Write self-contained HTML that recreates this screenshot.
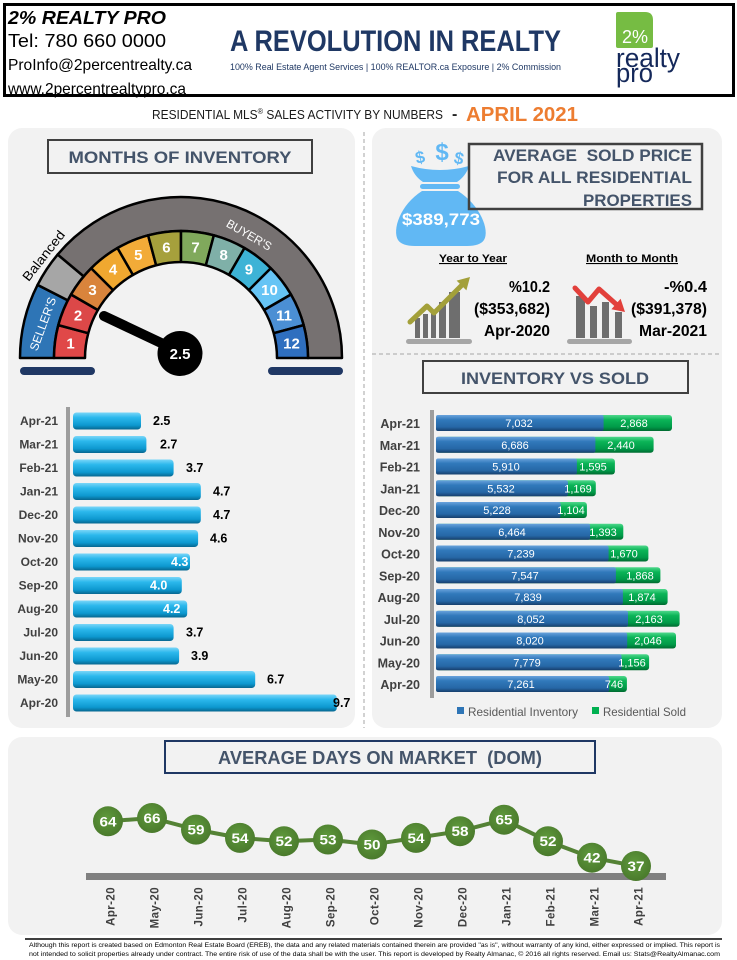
<!DOCTYPE html>
<html>
<head>
<meta charset="utf-8">
<style>
html,body{margin:0;padding:0;background:#fff;}
svg{display:block;}
text{font-family:"Liberation Sans",sans-serif;}
</style>
</head>
<body>
<svg width="737" height="960" viewBox="0 0 737 960" xmlns="http://www.w3.org/2000/svg">
<defs>
  <linearGradient id="gL" x1="0" y1="0" x2="0" y2="1">
    <stop offset="0" stop-color="#7ad6f8"/>
    <stop offset="0.3" stop-color="#2bb8ec"/>
    <stop offset="0.75" stop-color="#0d98cf"/>
    <stop offset="1" stop-color="#07668f"/>
  </linearGradient>
  <linearGradient id="gB" x1="0" y1="0" x2="0" y2="1">
    <stop offset="0" stop-color="#6aa3dc"/>
    <stop offset="0.3" stop-color="#3179bb"/>
    <stop offset="0.75" stop-color="#2667a6"/>
    <stop offset="1" stop-color="#173f6c"/>
  </linearGradient>
  <linearGradient id="gG" x1="0" y1="0" x2="0" y2="1">
    <stop offset="0" stop-color="#4fd88c"/>
    <stop offset="0.3" stop-color="#0bb457"/>
    <stop offset="0.75" stop-color="#009a48"/>
    <stop offset="1" stop-color="#006a30"/>
  </linearGradient>
  <radialGradient id="gC" cx="0.45" cy="0.4" r="0.6">
    <stop offset="0" stop-color="#5f9a3c"/>
    <stop offset="1" stop-color="#4a7a2c"/>
  </radialGradient>
</defs>

<!-- HEADER -->
<rect x="4.5" y="4.5" width="729" height="91" fill="#fff" stroke="#000" stroke-width="3"/>
<text x="8" y="24" font-size="18" font-weight="bold" font-style="italic" textLength="158" lengthAdjust="spacingAndGlyphs">2% REALTY PRO</text>
<text x="8" y="47" font-size="18" textLength="158" lengthAdjust="spacingAndGlyphs">Tel: 780 660 0000</text>
<text x="8" y="70" font-size="16" textLength="184" lengthAdjust="spacingAndGlyphs">ProInfo@2percentrealty.ca</text>
<text x="8" y="94" font-size="16" textLength="178" lengthAdjust="spacingAndGlyphs">www.2percentrealtypro.ca</text>

<text x="230" y="51" font-size="30" font-weight="bold" fill="#1f3864" textLength="331" lengthAdjust="spacingAndGlyphs">A REVOLUTION IN REALTY</text>
<text x="230" y="70" font-size="9" fill="#1f3864" textLength="331" lengthAdjust="spacingAndGlyphs">100% Real Estate Agent Services | 100% REALTOR.ca Exposure | 2% Commission</text>

<path d="M616,14 Q616,12 618,12 L645,12 Q653,12 653,20 L653,46 Q653,48 651,48 L618,48 Q616,48 616,46 Z" fill="#76bc43"/>
<text x="622" y="43" font-size="18" fill="#fff" textLength="26" lengthAdjust="spacingAndGlyphs">2%</text>
<text x="616" y="67" font-size="27" fill="#14285a" textLength="64" lengthAdjust="spacingAndGlyphs">realty</text>
<text x="616" y="82" font-size="27" fill="#14285a" textLength="37" lengthAdjust="spacingAndGlyphs">pro</text>

<!-- SUBTITLE -->
<text x="152" y="119" font-size="13" fill="#1a1a1a" textLength="291" lengthAdjust="spacingAndGlyphs">RESIDENTIAL MLS<tspan font-size="8" dy="-5">®</tspan><tspan dy="5"> SALES ACTIVITY BY NUMBERS</tspan></text>
<text x="452" y="119" font-size="16" font-weight="bold" fill="#222">-</text>
<text x="466" y="121" font-size="20" font-weight="bold" fill="#ed7d31" textLength="112" lengthAdjust="spacingAndGlyphs">APRIL 2021</text>

<!-- PANELS -->
<rect x="8" y="128" width="347" height="600" rx="14" fill="#f2f2f2"/>
<rect x="372" y="128" width="350" height="600" rx="14" fill="#f2f2f2"/>
<rect x="8" y="737" width="714" height="198" rx="14" fill="#f2f2f2"/>
<line x1="364" y1="132" x2="364" y2="728" stroke="#a6a6a6" stroke-width="1" stroke-dasharray="4,3"/>
<line x1="372" y1="354" x2="722" y2="354" stroke="#a6a6a6" stroke-width="1" stroke-dasharray="4,3"/>

<!-- MONTHS OF INVENTORY -->
<rect x="48" y="140" width="264" height="33" fill="none" stroke="#404040" stroke-width="2"/>
<text x="180" y="163" font-size="17" font-weight="bold" fill="#44546a" text-anchor="middle" textLength="223" lengthAdjust="spacingAndGlyphs">MONTHS OF INVENTORY</text>

<!-- GAUGE -->
<g stroke="#000" stroke-width="2.5" stroke-linejoin="round">
  <path d="M20,358 A161,161 0 0 1 37.55,284.91 L67.84,300.34 A127,127 0 0 0 54,358 Z" fill="#2e75b6"/>
  <path d="M37.55,284.91 A161,161 0 0 1 57.67,254.51 L83.72,276.36 A127,127 0 0 0 67.84,300.34 Z" fill="#a6a6a6"/>
  <path d="M57.67,254.51 A161,161 0 0 1 342,358 L308,358 A127,127 0 0 0 83.72,276.36 Z" fill="#767171"/>
  <g>
    <path d="M54,358 A127,127 0 0 1 58.33,325.13 L88.27,333.15 A96,96 0 0 0 85,358 Z" fill="#e04848"/>
    <path d="M54,358 A127,127 0 0 1 58.33,325.13 L88.27,333.15 A96,96 0 0 0 85,358 Z" fill="#dc4848" transform="rotate(15 181 358)"/>
    <path d="M54,358 A127,127 0 0 1 58.33,325.13 L88.27,333.15 A96,96 0 0 0 85,358 Z" fill="#d9843c" transform="rotate(30 181 358)"/>
    <path d="M54,358 A127,127 0 0 1 58.33,325.13 L88.27,333.15 A96,96 0 0 0 85,358 Z" fill="#f0a830" transform="rotate(45 181 358)"/>
    <path d="M54,358 A127,127 0 0 1 58.33,325.13 L88.27,333.15 A96,96 0 0 0 85,358 Z" fill="#f2ab38" transform="rotate(60 181 358)"/>
    <path d="M54,358 A127,127 0 0 1 58.33,325.13 L88.27,333.15 A96,96 0 0 0 85,358 Z" fill="#a6a03c" transform="rotate(75 181 358)"/>
    <path d="M54,358 A127,127 0 0 1 58.33,325.13 L88.27,333.15 A96,96 0 0 0 85,358 Z" fill="#80a95c" transform="rotate(90 181 358)"/>
    <path d="M54,358 A127,127 0 0 1 58.33,325.13 L88.27,333.15 A96,96 0 0 0 85,358 Z" fill="#7fb0a8" transform="rotate(105 181 358)"/>
    <path d="M54,358 A127,127 0 0 1 58.33,325.13 L88.27,333.15 A96,96 0 0 0 85,358 Z" fill="#3db3d6" transform="rotate(120 181 358)"/>
    <path d="M54,358 A127,127 0 0 1 58.33,325.13 L88.27,333.15 A96,96 0 0 0 85,358 Z" fill="#66c4f5" transform="rotate(135 181 358)"/>
    <path d="M54,358 A127,127 0 0 1 58.33,325.13 L88.27,333.15 A96,96 0 0 0 85,358 Z" fill="#4b8fd4" transform="rotate(150 181 358)"/>
    <path d="M54,358 A127,127 0 0 1 58.33,325.13 L88.27,333.15 A96,96 0 0 0 85,358 Z" fill="#2f6fbf" transform="rotate(165 181 358)"/>
  </g>
</g>
<g font-size="15" font-weight="bold" fill="#fff" text-anchor="middle">
  <text x="70.5" y="348.5">1</text>
  <text x="78" y="320.3">2</text>
  <text x="92.5" y="295.1">3</text>
  <text x="113.1" y="274.5">4</text>
  <text x="138.3" y="260">5</text>
  <text x="166.4" y="252.5">6</text>
  <text x="195.6" y="252.5">7</text>
  <text x="223.7" y="260">8</text>
  <text x="248.9" y="274.5">9</text>
  <text x="269.5" y="295.1">10</text>
  <text x="284" y="320.3">11</text>
  <text x="291.5" y="348.5">12</text>
</g>
<text transform="translate(43,324) rotate(-70)" dy="4" font-size="12" fill="#fff" text-anchor="middle" textLength="56" lengthAdjust="spacingAndGlyphs">SELLER'S</text>
<text transform="translate(44,256) rotate(-52)" dy="4" font-size="13" fill="#000" text-anchor="middle" textLength="60" lengthAdjust="spacingAndGlyphs">Balanced</text>
<text transform="translate(249,235) rotate(30)" dy="4" font-size="12" fill="#fff" text-anchor="middle" textLength="50" lengthAdjust="spacingAndGlyphs">BUYER'S</text>

<line x1="104" y1="316" x2="176" y2="350" stroke="#000" stroke-width="10" stroke-linecap="round"/>
<circle cx="180" cy="353.5" r="22.5" fill="#000"/>
<text x="180" y="359" font-size="15" font-weight="bold" fill="#fff" text-anchor="middle">2.5</text>
<rect x="20" y="367" width="75" height="8" rx="4" fill="#203864"/>
<rect x="268" y="367" width="75" height="8" rx="4" fill="#203864"/>

<!-- LEFT BAR CHART -->
<rect x="66" y="407" width="4" height="310" fill="#9d9d9d"/>
<g fill="url(#gL)">
  <rect x="73" y="412.5" width="68" height="17" rx="3.5"/>
  <rect x="73" y="436" width="73.4" height="17" rx="3.5"/>
  <rect x="73" y="459.5" width="100.6" height="17" rx="3.5"/>
  <rect x="73" y="483" width="127.8" height="17" rx="3.5"/>
  <rect x="73" y="506.5" width="127.8" height="17" rx="3.5"/>
  <rect x="73" y="530" width="125.1" height="17" rx="3.5"/>
  <rect x="73" y="553.5" width="117" height="17" rx="3.5"/>
  <rect x="73" y="577" width="108.8" height="17" rx="3.5"/>
  <rect x="73" y="600.5" width="114.2" height="17" rx="3.5"/>
  <rect x="73" y="624" width="100.6" height="17" rx="3.5"/>
  <rect x="73" y="647.5" width="106.1" height="17" rx="3.5"/>
  <rect x="73" y="671" width="182.2" height="17" rx="3.5"/>
  <rect x="73" y="694.5" width="263.8" height="17" rx="3.5"/>
</g>
<g font-size="12" font-weight="bold" fill="#404040" text-anchor="end">
  <text x="58" y="425">Apr-21</text>
  <text x="58" y="448.5">Mar-21</text>
  <text x="58" y="472">Feb-21</text>
  <text x="58" y="495.5">Jan-21</text>
  <text x="58" y="519">Dec-20</text>
  <text x="58" y="542.5">Nov-20</text>
  <text x="58" y="566">Oct-20</text>
  <text x="58" y="589.5">Sep-20</text>
  <text x="58" y="613">Aug-20</text>
  <text x="58" y="636.5">Jul-20</text>
  <text x="58" y="660">Jun-20</text>
  <text x="58" y="683.5">May-20</text>
  <text x="58" y="707">Apr-20</text>
</g>
<g font-size="12.5" font-weight="bold" fill="#000">
  <text x="153" y="425">2.5</text>
  <text x="160" y="448.5">2.7</text>
  <text x="186" y="472">3.7</text>
  <text x="213" y="495.5">4.7</text>
  <text x="213" y="519">4.7</text>
  <text x="210" y="542.5">4.6</text>
  <text x="171" y="566" fill="#fff">4.3</text>
  <text x="150" y="589.5" fill="#fff">4.0</text>
  <text x="163" y="613" fill="#fff">4.2</text>
  <text x="186" y="636.5">3.7</text>
  <text x="191" y="660">3.9</text>
  <text x="267" y="683.5">6.7</text>
  <text x="333" y="707">9.7</text>
</g>

<!-- AVERAGE SOLD PRICE -->
<path d="M422,191 C400,205 392,230 398,240 Q402,246 415,246 L467,246 Q480,246 484,240 C490,230 480,205 458,191 Z" fill="#61b8f4"/>
<rect x="420" y="184" width="40" height="5" rx="2.5" fill="#61b8f4"/>
<path d="M411,166 Q440,174 469,166 Q466,176 457,182 L423,182 Q414,176 411,166 Z" fill="#61b8f4"/>
<text x="420" y="163" font-size="17" font-weight="bold" fill="#61b8f4" text-anchor="middle" transform="rotate(-12 420 157)">$</text>
<text x="442" y="160" font-size="24" font-weight="bold" fill="#61b8f4" text-anchor="middle">$</text>
<text x="459" y="164" font-size="17" font-weight="bold" fill="#61b8f4" text-anchor="middle" transform="rotate(12 459 158)">$</text>
<text x="441" y="225" font-size="17" font-weight="bold" fill="#fff" text-anchor="middle" textLength="78" lengthAdjust="spacingAndGlyphs">$389,773</text>

<rect x="469" y="144" width="233" height="65" fill="none" stroke="#404040" stroke-width="2.5"/>
<g font-size="17" font-weight="bold" fill="#44546a" text-anchor="end">
  <text x="692" y="161" textLength="199" lengthAdjust="spacingAndGlyphs">AVERAGE&#160; SOLD PRICE</text>
  <text x="692" y="183" textLength="195" lengthAdjust="spacingAndGlyphs">FOR ALL RESIDENTIAL</text>
  <text x="692" y="206" textLength="109" lengthAdjust="spacingAndGlyphs">PROPERTIES</text>
</g>

<text x="473" y="262" font-size="11" font-weight="bold" fill="#000" text-anchor="middle" textLength="68" lengthAdjust="spacingAndGlyphs" text-decoration="underline">Year to Year</text>
<text x="632" y="262" font-size="11" font-weight="bold" fill="#000" text-anchor="middle" textLength="92" lengthAdjust="spacingAndGlyphs" text-decoration="underline">Month to Month</text>

<!-- up icon -->
<g fill="#6e6e6e">
  <rect x="415" y="318" width="5" height="20"/>
  <rect x="423" y="314" width="5" height="24"/>
  <rect x="431" y="312" width="5" height="26"/>
  <rect x="439" y="302" width="7" height="36"/>
  <rect x="449" y="292" width="11" height="46"/>
</g>
<rect x="406" y="339" width="66" height="5" rx="2.5" fill="#a6a6a6"/>
<polyline points="410,322 427,306 434,313 461,286" fill="none" stroke="#a3a03a" stroke-width="5" stroke-linejoin="round" stroke-linecap="round"/>
<polygon points="470,277 456.6,280.6 466.4,290.4" fill="#a3a03a"/>
<!-- down icon -->
<g fill="#6e6e6e">
  <rect x="576" y="296" width="9" height="42"/>
  <rect x="590" y="306" width="7" height="32"/>
  <rect x="602" y="302" width="7" height="36"/>
  <rect x="615" y="312" width="7" height="26"/>
</g>
<rect x="567" y="339" width="65" height="5" rx="2.5" fill="#a6a6a6"/>
<polyline points="575,288 588,302 599,289 617,305" fill="none" stroke="#e2403b" stroke-width="5" stroke-linejoin="round" stroke-linecap="round"/>
<polygon points="625,312 620.6,298.8 611.4,309.2" fill="#e2403b"/>

<g font-size="16" font-weight="bold" fill="#000" text-anchor="end">
  <text x="550" y="292" textLength="41" lengthAdjust="spacingAndGlyphs">%10.2</text>
  <text x="550" y="314" textLength="76" lengthAdjust="spacingAndGlyphs">($353,682)</text>
  <text x="550" y="336" textLength="66" lengthAdjust="spacingAndGlyphs">Apr-2020</text>
  <text x="707" y="292" textLength="43" lengthAdjust="spacingAndGlyphs">-%0.4</text>
  <text x="707" y="314" textLength="76" lengthAdjust="spacingAndGlyphs">($391,378)</text>
  <text x="707" y="336" textLength="68" lengthAdjust="spacingAndGlyphs">Mar-2021</text>
</g>

<!-- INVENTORY VS SOLD -->
<rect x="423" y="361" width="265" height="32" fill="none" stroke="#404040" stroke-width="2"/>
<text x="555" y="384" font-size="17" font-weight="bold" fill="#44546a" text-anchor="middle" textLength="188" lengthAdjust="spacingAndGlyphs">INVENTORY VS SOLD</text>

<rect x="430" y="410" width="4" height="288" fill="#9d9d9d"/>
<g>
  <rect x="436" y="415" width="236" height="16" rx="3" fill="url(#gG)"/>
  <rect x="436" y="415" width="167.6" height="16" rx="2" fill="url(#gB)"/>
  <rect x="436" y="436.75" width="217.6" height="16" rx="3" fill="url(#gG)"/>
  <rect x="436" y="436.75" width="159.4" height="16" rx="2" fill="url(#gB)"/>
  <rect x="436" y="458.5" width="178.9" height="16" rx="3" fill="url(#gG)"/>
  <rect x="436" y="458.5" width="140.9" height="16" rx="2" fill="url(#gB)"/>
  <rect x="436" y="480.25" width="159.8" height="16" rx="3" fill="url(#gG)"/>
  <rect x="436" y="480.25" width="131.9" height="16" rx="2" fill="url(#gB)"/>
  <rect x="436" y="502" width="150.9" height="16" rx="3" fill="url(#gG)"/>
  <rect x="436" y="502" width="124.6" height="16" rx="2" fill="url(#gB)"/>
  <rect x="436" y="523.75" width="187.3" height="16" rx="3" fill="url(#gG)"/>
  <rect x="436" y="523.75" width="154.1" height="16" rx="2" fill="url(#gB)"/>
  <rect x="436" y="545.5" width="212.4" height="16" rx="3" fill="url(#gG)"/>
  <rect x="436" y="545.5" width="172.6" height="16" rx="2" fill="url(#gB)"/>
  <rect x="436" y="567.25" width="224.4" height="16" rx="3" fill="url(#gG)"/>
  <rect x="436" y="567.25" width="179.9" height="16" rx="2" fill="url(#gB)"/>
  <rect x="436" y="589" width="231.6" height="16" rx="3" fill="url(#gG)"/>
  <rect x="436" y="589" width="186.9" height="16" rx="2" fill="url(#gB)"/>
  <rect x="436" y="610.75" width="243.6" height="16" rx="3" fill="url(#gG)"/>
  <rect x="436" y="610.75" width="192" height="16" rx="2" fill="url(#gB)"/>
  <rect x="436" y="632.5" width="240" height="16" rx="3" fill="url(#gG)"/>
  <rect x="436" y="632.5" width="191.2" height="16" rx="2" fill="url(#gB)"/>
  <rect x="436" y="654.25" width="213.1" height="16" rx="3" fill="url(#gG)"/>
  <rect x="436" y="654.25" width="185.5" height="16" rx="2" fill="url(#gB)"/>
  <rect x="436" y="676" width="190.9" height="16" rx="3" fill="url(#gG)"/>
  <rect x="436" y="676" width="173.1" height="16" rx="2" fill="url(#gB)"/>
</g>
<g font-size="12.5" font-weight="bold" fill="#404040" text-anchor="end">
  <text x="420" y="428">Apr-21</text>
  <text x="420" y="449.75">Mar-21</text>
  <text x="420" y="471.5">Feb-21</text>
  <text x="420" y="493.25">Jan-21</text>
  <text x="420" y="515">Dec-20</text>
  <text x="420" y="536.75">Nov-20</text>
  <text x="420" y="558.5">Oct-20</text>
  <text x="420" y="580.25">Sep-20</text>
  <text x="420" y="602">Aug-20</text>
  <text x="420" y="623.75">Jul-20</text>
  <text x="420" y="645.5">Jun-20</text>
  <text x="420" y="667.25">May-20</text>
  <text x="420" y="689">Apr-20</text>
</g>
<g font-size="11" fill="#fff" text-anchor="middle">
  <text x="519" y="427">7,032</text><text x="634" y="427">2,868</text>
  <text x="515" y="448.75">6,686</text><text x="621" y="448.75">2,440</text>
  <text x="506" y="470.5">5,910</text><text x="593" y="470.5">1,595</text>
  <text x="501" y="492.25">5,532</text><text x="578" y="492.25">1,169</text>
  <text x="497" y="514">5,228</text><text x="571" y="514">1,104</text>
  <text x="512" y="535.75">6,464</text><text x="603" y="535.75">1,393</text>
  <text x="521" y="557.5">7,239</text><text x="624" y="557.5">1,670</text>
  <text x="525" y="579.25">7,547</text><text x="640" y="579.25">1,868</text>
  <text x="528" y="601">7,839</text><text x="642" y="601">1,874</text>
  <text x="531" y="622.75">8,052</text><text x="649" y="622.75">2,163</text>
  <text x="530" y="644.5">8,020</text><text x="648" y="644.5">2,046</text>
  <text x="527" y="666.25">7,779</text><text x="632" y="666.25">1,156</text>
  <text x="521" y="688">7,261</text><text x="614" y="688">746</text>
</g>
<rect x="457" y="707" width="7" height="7" fill="#2e75b6"/>
<text x="468" y="716" font-size="12" fill="#595959" textLength="110" lengthAdjust="spacingAndGlyphs">Residential Inventory</text>
<rect x="592" y="707" width="7" height="7" fill="#00b050"/>
<text x="603" y="716" font-size="12" fill="#595959" textLength="83" lengthAdjust="spacingAndGlyphs">Residential Sold</text>

<!-- DOM -->
<rect x="165" y="741" width="430" height="32" fill="none" stroke="#1f3864" stroke-width="2"/>
<text x="380" y="764" font-size="18" font-weight="bold" fill="#44546a" text-anchor="middle" textLength="324" lengthAdjust="spacingAndGlyphs">AVERAGE DAYS ON MARKET&#160; (DOM)</text>

<rect x="86" y="873" width="580" height="7" fill="#808080"/>
<polyline points="108,821.3 152,818 196,829.6 240,837.9 284,841.2 328,839.5 372,844.5 416,837.9 460,831.2 504,819.7 548,841.2 592,857.7 636,866" fill="none" stroke="#548235" stroke-width="4" stroke-linejoin="round"/>
<g fill="url(#gC)">
  <circle cx="108" cy="821.3" r="15"/>
  <circle cx="152" cy="818" r="15"/>
  <circle cx="196" cy="829.6" r="15"/>
  <circle cx="240" cy="837.9" r="15"/>
  <circle cx="284" cy="841.2" r="15"/>
  <circle cx="328" cy="839.5" r="15"/>
  <circle cx="372" cy="844.5" r="15"/>
  <circle cx="416" cy="837.9" r="15"/>
  <circle cx="460" cy="831.2" r="15"/>
  <circle cx="504" cy="819.7" r="15"/>
  <circle cx="548" cy="841.2" r="15"/>
  <circle cx="592" cy="857.7" r="15"/>
  <circle cx="636" cy="866" r="15"/>
</g>
<g font-size="14" font-weight="bold" fill="#fff" text-anchor="middle">
  <text x="108" y="826.3" textLength="17" lengthAdjust="spacingAndGlyphs">64</text>
  <text x="152" y="823" textLength="17" lengthAdjust="spacingAndGlyphs">66</text>
  <text x="196" y="834.6" textLength="17" lengthAdjust="spacingAndGlyphs">59</text>
  <text x="240" y="842.9" textLength="17" lengthAdjust="spacingAndGlyphs">54</text>
  <text x="284" y="846.2" textLength="17" lengthAdjust="spacingAndGlyphs">52</text>
  <text x="328" y="844.5" textLength="17" lengthAdjust="spacingAndGlyphs">53</text>
  <text x="372" y="849.5" textLength="17" lengthAdjust="spacingAndGlyphs">50</text>
  <text x="416" y="842.9" textLength="17" lengthAdjust="spacingAndGlyphs">54</text>
  <text x="460" y="836.2" textLength="17" lengthAdjust="spacingAndGlyphs">58</text>
  <text x="504" y="824.7" textLength="17" lengthAdjust="spacingAndGlyphs">65</text>
  <text x="548" y="846.2" textLength="17" lengthAdjust="spacingAndGlyphs">52</text>
  <text x="592" y="862.7" textLength="17" lengthAdjust="spacingAndGlyphs">42</text>
  <text x="636" y="871" textLength="17" lengthAdjust="spacingAndGlyphs">37</text>
</g>
<g font-size="11.5" font-weight="bold" fill="#404040" text-anchor="end" letter-spacing="0.4">
  <text transform="translate(114.5,887) rotate(-90)">Apr-20</text>
  <text transform="translate(158.5,887) rotate(-90)">May-20</text>
  <text transform="translate(202.5,887) rotate(-90)">Jun-20</text>
  <text transform="translate(246.5,887) rotate(-90)">Jul-20</text>
  <text transform="translate(290.5,887) rotate(-90)">Aug-20</text>
  <text transform="translate(334.5,887) rotate(-90)">Sep-20</text>
  <text transform="translate(378.5,887) rotate(-90)">Oct-20</text>
  <text transform="translate(422.5,887) rotate(-90)">Nov-20</text>
  <text transform="translate(466.5,887) rotate(-90)">Dec-20</text>
  <text transform="translate(510.5,887) rotate(-90)">Jan-21</text>
  <text transform="translate(554.5,887) rotate(-90)">Feb-21</text>
  <text transform="translate(598.5,887) rotate(-90)">Mar-21</text>
  <text transform="translate(642.5,887) rotate(-90)">Apr-21</text>
</g>

<!-- FOOTER -->
<line x1="25" y1="939" x2="722" y2="939" stroke="#000" stroke-width="1.5"/>
<text x="29" y="947" font-size="6" fill="#000" textLength="691" lengthAdjust="spacingAndGlyphs">Although this report is created based on Edmonton Real Estate Board (EREB), the data and any related materials contained therein are provided "as is", without warranty of any kind, either expressed or implied.  This report is</text>
<text x="29" y="956" font-size="6" fill="#000" textLength="691" lengthAdjust="spacingAndGlyphs">not intended to solicit properties already under contract.  The entire risk of use of the data shall be with the user.  This report is developed by Realty Almanac, © 2016 all rights reserved. Email us: Stats@RealtyAlmanac.com</text>
</svg>
</body>
</html>
